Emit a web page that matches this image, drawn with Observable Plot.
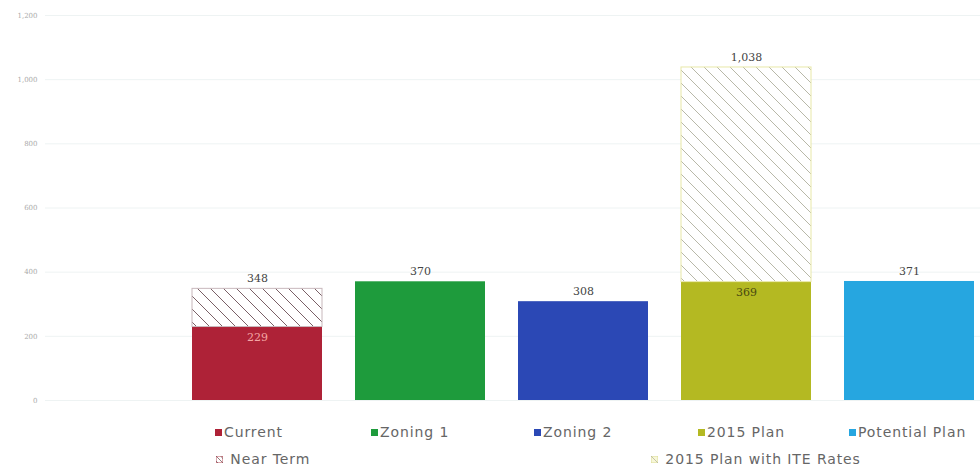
<!DOCTYPE html>
<html><head><meta charset="utf-8">
<script src="https://cdn.jsdelivr.net/npm/d3@7"></script>
<script src="https://cdn.jsdelivr.net/npm/@observablehq/plot@0.6"></script>
<style>
body{margin:0;background:#fff;font-family:"DejaVu Sans",sans-serif;}
#wrap{position:relative;width:980px;height:474px;overflow:hidden;}
.leg{position:absolute;white-space:nowrap;font-size:14px;letter-spacing:0.9px;color:#666;display:flex;align-items:center;}
.sw{display:inline-block;width:7px;height:7px;margin-right:2px;}
</style></head>
<body><div id="wrap"></div>
<script>
const categories = ["Current","Zoning 1","Zoning 2","2015 Plan","Potential Plan"];
const baseValues = [229, 370, 308, 369, 371];
const totalValues = [348, 370, 308, 1038, 371];
const yTicks = [0, 200, 400, 600, 800, 1000, 1200];
const barColors = ["#ae2237", "#1e9b3c", "#2b48b5", "#b4b922", "#26a6e0"];
const hatchFills = {"Current": "url(#hatchRed)", "2015 Plan": "url(#hatchOlive)"};
const hatchStrokes = {"Current": "#c8b8bc", "2015 Plan": "#e8e8a8"};
const legendRow1 = ["Current","Zoning 1","Zoning 2","2015 Plan","Potential Plan"];
const legendRow2 = ["Near Term","2015 Plan with ITE Rates"];

const data = categories.map((c, i) => ({cat: c, base: baseValues[i], total: totalValues[i], color: barColors[i]}));
const hatched = data.filter(d => d.total > d.base).map(d => ({...d, pfill: hatchFills[d.cat], pstroke: hatchStrokes[d.cat]}));
const fmt = d3.format(",");

const chart = Plot.plot({
  width: 980, height: 415,
  marginLeft: 45, marginRight: 0, marginTop: 15, marginBottom: 15,
  x: {domain: categories, range: [192, 975], paddingInner: 0.2, paddingOuter: 0, axis: null},
  y: {domain: [0, 1200], label: null, axis: null},
  color: {type: "identity"},
  style: {fontFamily: "DejaVu Serif, serif", background: "#fff"},
  marks: [
    Plot.ruleY(yTicks, {stroke: "#eef3f3", strokeWidth: 1}),
    Plot.axisY({ticks: yTicks, tickFormat: fmt, tickSize: 0, fontSize: 7, fill: "#aaa", tickPadding: 8, label: null}),
    Plot.barY(data, {x: "cat", y1: 0, y2: "base", fill: "color"}),
    Plot.barY(hatched, {x: "cat", y1: "base", y2: "total", fill: "pfill", stroke: "pstroke", strokeWidth: 1}),
    Plot.text(data, {x: "cat", y: "total", text: d => fmt(d.total), dy: -10, fontSize: 11, fill: "#444"}),
    Plot.text(hatched, {x: "cat", y: "base", text: d => fmt(d.base), dy: 10, fontSize: 11,
      fill: d => d.cat === "Current" ? "#f4a6a6" : "#4a4a10"})
  ]
});

const svg = d3.select(chart);
const defs = svg.insert("defs", ":first-child");
function pat(id, color) {
  const p = defs.append("pattern").attr("id", id).attr("patternUnits", "userSpaceOnUse")
    .attr("width", 13).attr("height", 13);
  p.append("rect").attr("width", 13).attr("height", 13).attr("fill", "#fff");
  p.append("path").attr("d", "M0,0L13,13M-2,11L2,15M11,-2L15,2").attr("stroke", color).attr("stroke-width", 1);
}
pat("hatchRed", "#7a6066");
pat("hatchOlive", "#b8b8a8");

const wrap = document.getElementById("wrap");
wrap.appendChild(chart);

const lefts1 = [215, 371, 534, 698, 849];
legendRow1.forEach((t, i) => {
  const d = document.createElement("div");
  d.className = "leg";
  d.style.left = lefts1[i] + "px";
  d.style.top = "424px";
  d.innerHTML = `<span class="sw" style="background:${barColors[i]}"></span>${t}`;
  wrap.appendChild(d);
});
const lefts2 = [216, 651];
const swatch2 = [
  `<svg class="sw" width="7" height="7" viewBox="0 0 7 7"><rect width="7" height="7" fill="#fff" stroke="#b22234" stroke-width="0.8"/><path d="M0,0L7,7M-2,3L2,7M3,-2L9,5" stroke="#7a5c60" stroke-width="0.8"/></svg>`,
  `<svg class="sw" width="7" height="7" viewBox="0 0 7 7"><rect width="7" height="7" fill="#f7f7d8" stroke="#d6d68a" stroke-width="0.8"/><path d="M0,0L7,7" stroke="#b5b5a0" stroke-width="0.8"/></svg>`
];
legendRow2.forEach((t, i) => {
  const d = document.createElement("div");
  d.className = "leg";
  d.style.left = lefts2[i] + "px";
  d.style.top = "451px";
  d.innerHTML = swatch2[i] + "&nbsp;" + t;
  wrap.appendChild(d);
});
</script></body></html>
